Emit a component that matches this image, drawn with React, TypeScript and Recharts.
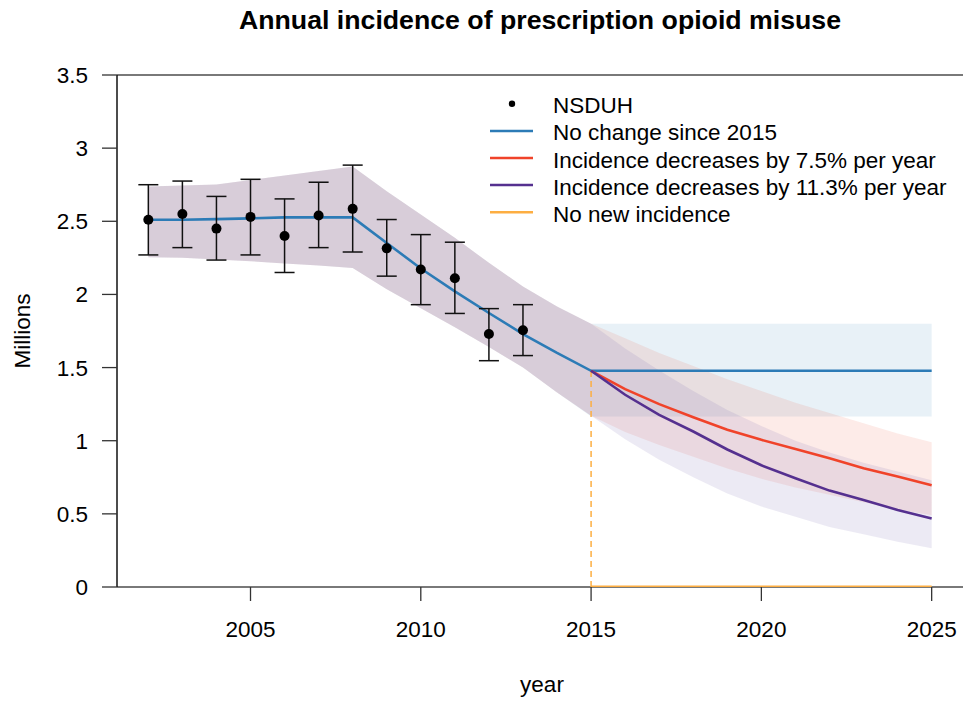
import React from 'react';
import {
  ComposedChart,
  Line,
  Area,
  Scatter,
  ErrorBar,
  XAxis,
  YAxis,
  ReferenceLine,
  Legend,
} from 'recharts';

// ---- observed survey estimates (NSDUH) ----
const nsduhYears = [2002, 2003, 2004, 2005, 2006, 2007, 2008, 2009, 2010, 2011, 2012, 2013];
const nsduhValue = [2.51, 2.55, 2.45, 2.53, 2.40, 2.54, 2.585, 2.315, 2.17, 2.11, 1.73, 1.755];
const nsduhLow = [2.27, 2.32, 2.235, 2.27, 2.15, 2.32, 2.29, 2.125, 1.93, 1.87, 1.547, 1.582];
const nsduhHigh = [2.75, 2.775, 2.67, 2.787, 2.653, 2.767, 2.884, 2.512, 2.409, 2.357, 1.903, 1.93];

// ---- fitted trajectory 2002-2015 ----
const fitYears = [2002, 2003, 2004, 2005, 2006, 2007, 2008, 2009, 2010, 2011, 2012, 2013, 2014, 2015];
const fitValue = [2.51, 2.51, 2.515, 2.52, 2.527, 2.527, 2.527, 2.352, 2.177, 2.021, 1.873, 1.729, 1.6, 1.478];
const fitUpper = [2.737, 2.745, 2.752, 2.783, 2.813, 2.843, 2.875, 2.706, 2.546, 2.387, 2.216, 2.055, 1.918, 1.8];
const fitLower = [2.254, 2.25, 2.238, 2.227, 2.211, 2.197, 2.181, 2.035, 1.905, 1.775, 1.64, 1.5, 1.33, 1.17];

// ---- projections 2015-2025 ----
const projYears = [2015, 2016, 2017, 2018, 2019, 2020, 2021, 2022, 2023, 2024, 2025];
const noChange = [1.478, 1.478, 1.478, 1.478, 1.478, 1.478, 1.478, 1.478, 1.478, 1.478, 1.478];
const noChangeUpper = [1.8, 1.8, 1.8, 1.8, 1.8, 1.8, 1.8, 1.8, 1.8, 1.8, 1.8];
const noChangeLower = [1.166, 1.166, 1.166, 1.166, 1.166, 1.166, 1.166, 1.166, 1.166, 1.166, 1.166];
const dec75 = [1.478, 1.353, 1.25, 1.161, 1.075, 1.006, 0.944, 0.88, 0.812, 0.755, 0.696];
const dec75Upper = [1.8, 1.7, 1.6, 1.51, 1.42, 1.34, 1.26, 1.19, 1.12, 1.05, 0.99];
const dec75Lower = [1.17, 1.06, 0.97, 0.89, 0.81, 0.74, 0.68, 0.63, 0.58, 0.53, 0.49];
const dec113 = [1.478, 1.314, 1.177, 1.063, 0.94, 0.832, 0.744, 0.659, 0.595, 0.527, 0.468];
const dec113Upper = [1.8, 1.63, 1.48, 1.34, 1.21, 1.1, 1.0, 0.92, 0.85, 0.79, 0.73];
const dec113Lower = [1.17, 1.01, 0.87, 0.75, 0.64, 0.55, 0.48, 0.41, 0.36, 0.31, 0.265];
const noNew = [0, 0, 0, 0, 0, 0, 0, 0, 0, 0, 0];

// ---- axes ----
const xTicks = [2005, 2010, 2015, 2020, 2025];
const yTicks = [0, 0.5, 1, 1.5, 2, 2.5, 3, 3.5];

const FONT = "'Liberation Sans', Arial, Helvetica, sans-serif";
const BLUE = '#2c7bb6';
const RED = '#f0432a';
const PURPLE = '#55308f';
const ORANGE = '#fdae42';
const BAND_BLUE = '#2c7bb6';
const BAND_RED = '#f03b20';
const BAND_PURPLE = '#756bb1';

const legendItems = [
  { label: 'NSDUH', kind: 'dot', color: '#000000' },
  { label: 'No change since 2015', kind: 'line', color: BLUE },
  { label: 'Incidence decreases by 7.5% per year', kind: 'line', color: RED },
  { label: 'Incidence decreases by 11.3% per year', kind: 'line', color: PURPLE },
  { label: 'No new incidence', kind: 'line', color: ORANGE },
];

type Row = { [k: string]: number | number[] | undefined };

// one row per year; the three scenario bands share the fitted band up to 2015
const rows: Row[] = [];
for (let y = 2002; y <= 2025; y++) {
  const row: Row = { year: y };
  const f = fitYears.indexOf(y);
  if (f >= 0) {
    row.blue = fitValue[f];
    row.bandBlue = [fitLower[f], fitUpper[f]];
    row.bandRed = [fitLower[f], fitUpper[f]];
    row.bandPurple = [fitLower[f], fitUpper[f]];
  }
  const p = projYears.indexOf(y);
  if (p >= 0) {
    row.blue = noChange[p];
    row.red = dec75[p];
    row.purple = dec113[p];
    row.none = noNew[p];
    row.bandBlue = [noChangeLower[p], noChangeUpper[p]];
    row.bandRed = [dec75Lower[p], dec75Upper[p]];
    row.bandPurple = [dec113Lower[p], dec113Upper[p]];
  }
  rows.push(row);
}

const surveyRows = nsduhYears.map((y, i) => ({
  year: y,
  value: nsduhValue[i],
  err: [nsduhValue[i] - nsduhLow[i], nsduhHigh[i] - nsduhValue[i]],
}));

function LegendBox() {
  const left = 480;
  const top = 88;
  return (
    <svg width={483} height={145} style={{ display: 'block' }}>
      {legendItems.map((it, i) => {
        const base = 113.3 - top + 27.1 * i;
        const sy = base - 9.5;
        return (
          <g key={it.label}>
            {it.kind === 'dot' ? (
              <circle cx={512 - left} cy={sy} r={3.2} fill={it.color} />
            ) : (
              <line x1={490 - left} x2={533 - left} y1={sy} y2={sy} stroke={it.color} strokeWidth={2.5} />
            )}
            <text x={553 - left} y={base} fontSize={22.5} fontFamily={FONT} fill="#000">
              {it.label}
            </text>
          </g>
        );
      })}
    </svg>
  );
}

export default function App() {
  return (
    <div style={{ position: 'absolute', left: 0, top: 0, background: '#fff' }}>
      <ComposedChart
        width={963}
        height={702}
        data={rows}
        margin={{ top: 75, right: 0, bottom: 0, left: 0 }}
        style={{ fontFamily: FONT }}
      >
        <XAxis
          dataKey="year"
          type="number"
          domain={[2001.08, 2025.92]}
          allowDataOverflow
          ticks={xTicks}
          interval={0}
          axisLine={false}
          tickLine={{ stroke: '#333', strokeWidth: 1.3 }}
          tickSize={14}
          tickMargin={20}
          height={115}
          tick={{ fontSize: 22.5, fill: '#000', fontFamily: FONT }}
        />
        <YAxis
          type="number"
          domain={[0, 3.5]}
          allowDataOverflow
          ticks={yTicks}
          interval={0}
          width={117}
          axisLine={{ stroke: '#111', strokeWidth: 1.5 }}
          tickLine={{ stroke: '#333', strokeWidth: 1.3 }}
          tickSize={15}
          tickMargin={14}
          tick={{ fontSize: 22.5, fill: '#000', fontFamily: FONT }}
        />

        <Area type="linear" dataKey="bandBlue" stroke="none" fill={BAND_BLUE} fillOpacity={0.11} isAnimationActive={false} />
        <Area type="linear" dataKey="bandRed" stroke="none" fill={BAND_RED} fillOpacity={0.1} isAnimationActive={false} />
        <Area type="linear" dataKey="bandPurple" stroke="none" fill={BAND_PURPLE} fillOpacity={0.14} isAnimationActive={false} />

        <ReferenceLine y={0} stroke="#4d4d4d" strokeWidth={1.5} ifOverflow="visible" />
        <ReferenceLine y={3.5} stroke="#4d4d4d" strokeWidth={1.5} ifOverflow="visible" />

        <ReferenceLine
          segment={[
            { x: projYears[0], y: noNew[0] },
            { x: projYears[0], y: noChange[0] },
          ]}
          stroke={ORANGE}
          strokeWidth={1.5}
          strokeDasharray="6 4"
        />

        <Line type="linear" dataKey="blue" stroke={BLUE} strokeWidth={2.6} dot={false} isAnimationActive={false} />
        <Line type="linear" dataKey="red" stroke={RED} strokeWidth={2.6} dot={false} isAnimationActive={false} />
        <Line type="linear" dataKey="purple" stroke={PURPLE} strokeWidth={2.6} dot={false} isAnimationActive={false} />
        <Line type="linear" dataKey="none" stroke={ORANGE} strokeWidth={3} dot={false} isAnimationActive={false} />

        <Scatter
          data={surveyRows}
          dataKey="value"
          fill="#000"
          isAnimationActive={false}
          shape={(p: any) => <circle cx={p.cx} cy={p.cy} r={5} fill="#000" />}
        >
          <ErrorBar dataKey="err" direction="y" width={10} stroke="#111" strokeWidth={1.5} />
        </Scatter>

        <Legend
          layout="horizontal"
          align="center"
          verticalAlign="middle"
          wrapperStyle={{ position: 'absolute', left: 480, top: 88, width: 483, height: 145 }}
          content={() => <LegendBox />}
        />

        <text x={540} y={29} textAnchor="middle" fontSize={26.7} fontWeight="bold" fontFamily={FONT} fill="#000">
          Annual incidence of prescription opioid misuse
        </text>
        <text x={542} y={692} textAnchor="middle" fontSize={22.5} fontFamily={FONT} fill="#000">
          year
        </text>
        <text
          x={30}
          y={331}
          textAnchor="middle"
          fontSize={22.5}
          fontFamily={FONT}
          fill="#000"
          transform="rotate(-90 30 331)"
        >
          Millions
        </text>
      </ComposedChart>
    </div>
  );
}
